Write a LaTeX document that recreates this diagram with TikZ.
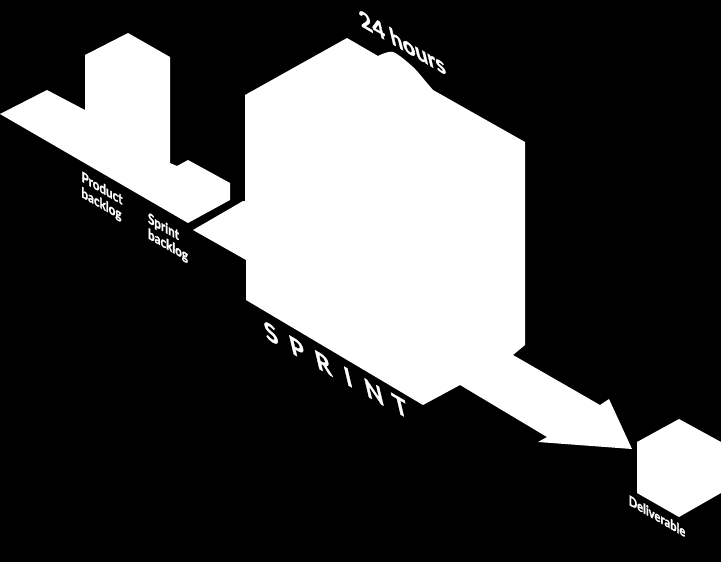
\documentclass[tikz,border=0pt]{standalone}
\usepackage{fontspec}
\newfontfamily\lab{Lato}[BoldFeatures={FakeBold=1.6}]
\begin{document}
\begin{tikzpicture}[x=1pt,y=-1pt,
  solid/.style={fill=white},
  lbl/.style={text=white, inner sep=0pt, align=left},
  iso/.style={cm={0.86,-0.496,0,1.05,(0,0)}},
  isob/.style={cm={0.95,-0.548,-0.25,1.05,(0,0)}}]
\fill[black] (0,0) rectangle (721,562);
\useasboundingbox (0,0) rectangle (721,562);
% product backlog + sprint backlog
\fill[solid] (0,114) -- (47,90) -- (85,110) -- (85,55) -- (128,33) -- (170,57)
  -- (170,163) -- (177,166) -- (188,160) -- (230,183) -- (230,200) -- (188,223) -- cycle;
% sprint box with arrows
\fill[solid] (193,230) -- (243,201) -- (245,201) -- (245,95) -- (347,38) -- (378,56)
  -- plot[smooth] coordinates {(378,56) (393,52) (413,67) (427,83) (433,90)}
  -- (525,142) -- (525,345) -- (513,355) -- (600,405) -- (609,399) -- (632,449)
  -- (538,442) -- (547,437) -- (460,385) -- (423,405) -- (246,300) -- (246,260) -- cycle;
% deliverable
\fill[solid] (637,442) -- (679,419) -- (721,442) -- (721,493) -- (679,517) -- (637,493) -- cycle;
% labels
\node[lbl, iso, font=\lab\bfseries\fontsize{13.5}{15}\selectfont] (pb) at (102,197) {Product\\backlog};
\node[lbl, iso, font=\lab\bfseries\fontsize{13.5}{15}\selectfont] (sb) at (168,238) {Sprint\\backlog};
\node[lbl, iso, font=\lab\bfseries\fontsize{13}{15}\selectfont] (dl) at (657,516) {Deliverable};
\node[lbl, isob, font=\lab\bfseries\fontsize{23}{25}\selectfont] (hr) at (402,42) {24 hours};
\foreach \l/\px/\py [count=\i] in {S/271/333, P/297/348, R/323/363, I/348/377, N/374/392, T/400/406}
  \node[lbl, isob, font=\lab\bfseries\fontsize{25}{27}\selectfont] (sp\i) at (\px,\py) {\l};
\end{tikzpicture}
\end{document}
